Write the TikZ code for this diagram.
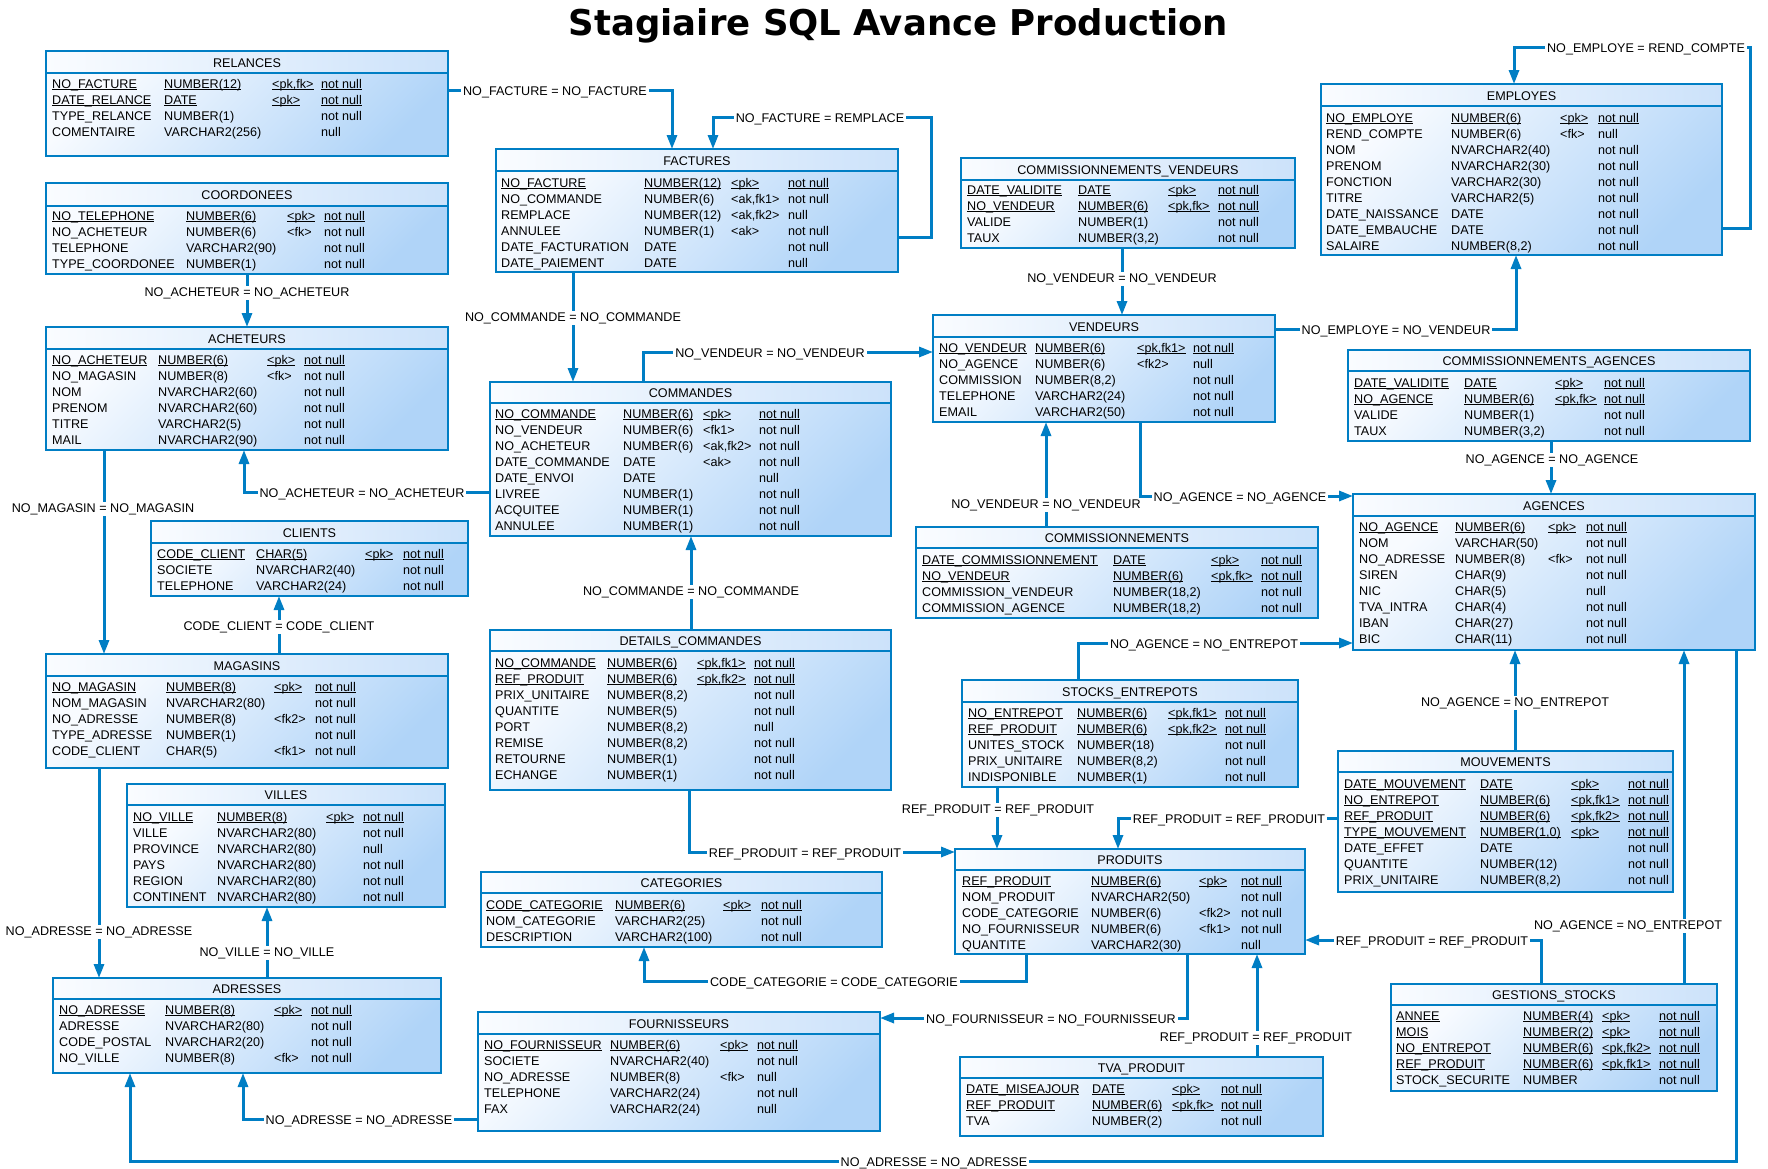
\documentclass[tikz,border=0pt]{standalone}
\usepackage{fontspec}
\setmainfont{Liberation Sans}
\newfontfamily\titlefont{DejaVu Sans}
\usepackage{graphicx}
\usetikzlibrary{fit,arrows.meta}
\definecolor{bc}{RGB}{0,126,196}
\definecolor{gtop}{RGB}{248,251,255}
\definecolor{gbot}{RGB}{176,212,248}
\definecolor{htop}{RGB}{250,252,255}
\definecolor{hbot}{RGB}{204,226,250}
\newcount\rowy
\newcount\nodeidx
\newsavebox\ulbox
\newcommand\pkul[1]{\sbox\ulbox{#1}\rlap{\rule[-1.8pt]{\wd\ulbox}{0.9pt}}\usebox\ulbox}
\newcommand\tablebox[7]{%
  \node[tbody, fit={(#2,#6) (#4,#5)}] (#1-body) {};
  \node[thead, fit={(#2,#3) (#4,#6)}] (#1-head) {};
  \node[ttl] (#1-title) at ({(#2+#4)/2},{(#3+#6)/2+5}) {#7};
  \draw[tsep] (#2,#6) -- (#4,#6);
  \node[tframe, fit={(#2,#3) (#4,#5)}] (#1) {};
}
\newcommand\tcols[5]{\def\tcA{#1}\def\tcB{#2}\def\tcC{#3}\def\tcD{#4}\global\rowy=#5\relax}
\newcommand\trow[4]{%
  \global\advance\nodeidx by 1
  \node[cell] (c\the\nodeidx a) at (\tcA,\the\rowy) {#1};
  \node[cell] (c\the\nodeidx b) at (\tcB,\the\rowy) {#2};
  \if\relax\detokenize{#3}\relax\else\node[cell] (c\the\nodeidx c) at (\tcC,\the\rowy) {#3};\fi
  \node[cell] (c\the\nodeidx d) at (\tcD,\the\rowy) {#4};
  \global\advance\rowy by 16
}
\newcommand\tpk[4]{\trow{\pkul{#1}}{\pkul{#2}}{\pkul{#3}}{\pkul{#4}}}
\begin{document}
\begin{tikzpicture}[x=1pt,y=-1pt,
  cell/.style={anchor=base west, inner sep=0pt, font=\fontsize{12.6}{15}\selectfont},
  ttl/.style={anchor=base, inner sep=0pt, font=\fontsize{12.6}{15}\selectfont},
  tbody/.style={inner sep=0pt, outer sep=0pt, top color=gtop, bottom color=gbot, shading angle=45},
  thead/.style={inner sep=0pt, outer sep=0pt, left color=htop, right color=hbot},
  tframe/.style={inner sep=0pt, outer sep=0pt, draw=bc, line width=2.2pt},
  tsep/.style={draw=bc, line width=2.2pt},
  conn/.style={draw=bc, line width=3pt, -{Triangle[length=14pt,width=10pt]}},
  lbl/.style={anchor=base, fill=white, inner xsep=2pt, inner ysep=1pt, text height=9pt, text depth=3pt, font=\fontsize{12.6}{15}\selectfont}
]
\useasboundingbox (0,0) rectangle (1768,1168);
\fill[white] (0,0) rectangle (1768,1168);

% ---------- tables ----------
\tablebox{relances}{46}{51}{448}{156}{73}{RELANCES}
\tcols{52}{164}{272}{321}{88}
\tpk{NO\_FACTURE}{NUMBER(12)}{<pk,fk>}{not null}
\tpk{DATE\_RELANCE}{DATE}{<pk>}{not null}
\trow{TYPE\_RELANCE}{NUMBER(1)}{}{not null}
\trow{COMENTAIRE}{VARCHAR2(256)}{}{null}

\tablebox{coord}{46}{183}{448}{274}{206}{COORDONEES}
\tcols{52}{186}{287}{324}{220}
\tpk{NO\_TELEPHONE}{NUMBER(6)}{<pk>}{not null}
\trow{NO\_ACHETEUR}{NUMBER(6)}{<fk>}{not null}
\trow{TELEPHONE}{VARCHAR2(90)}{}{not null}
\trow{TYPE\_COORDONEE}{NUMBER(1)}{}{not null}

\tablebox{acheteurs}{46}{327}{448}{450}{349}{ACHETEURS}
\tcols{52}{158}{267}{304}{364}
\tpk{NO\_ACHETEUR}{NUMBER(6)}{<pk>}{not null}
\trow{NO\_MAGASIN}{NUMBER(8)}{<fk>}{not null}
\trow{NOM}{NVARCHAR2(60)}{}{not null}
\trow{PRENOM}{NVARCHAR2(60)}{}{not null}
\trow{TITRE}{VARCHAR2(5)}{}{not null}
\trow{MAIL}{NVARCHAR2(90)}{}{not null}

\tablebox{clients}{151}{521}{468}{596}{543}{CLIENTS}
\tcols{157}{256}{365}{403}{558}
\tpk{CODE\_CLIENT}{CHAR(5)}{<pk>}{not null}
\trow{SOCIETE}{NVARCHAR2(40)}{}{not null}
\trow{TELEPHONE}{VARCHAR2(24)}{}{not null}

\tablebox{magasins}{46}{654}{448}{768}{676}{MAGASINS}
\tcols{52}{166}{274}{315}{691}
\tpk{NO\_MAGASIN}{NUMBER(8)}{<pk>}{not null}
\trow{NOM\_MAGASIN}{NVARCHAR2(80)}{}{not null}
\trow{NO\_ADRESSE}{NUMBER(8)}{<fk2>}{not null}
\trow{TYPE\_ADRESSE}{NUMBER(1)}{}{not null}
\trow{CODE\_CLIENT}{CHAR(5)}{<fk1>}{not null}

\tablebox{villes}{127}{784}{445}{907}{805}{VILLES}
\tcols{133}{217}{326}{363}{821}
\tpk{NO\_VILLE}{NUMBER(8)}{<pk>}{not null}
\trow{VILLE}{NVARCHAR2(80)}{}{not null}
\trow{PROVINCE}{NVARCHAR2(80)}{}{null}
\trow{PAYS}{NVARCHAR2(80)}{}{not null}
\trow{REGION}{NVARCHAR2(80)}{}{not null}
\trow{CONTINENT}{NVARCHAR2(80)}{}{not null}

\tablebox{adresses}{53}{978}{441}{1073}{999}{ADRESSES}
\tcols{59}{165}{274}{311}{1014}
\tpk{NO\_ADRESSE}{NUMBER(8)}{<pk>}{not null}
\trow{ADRESSE}{NVARCHAR2(80)}{}{not null}
\trow{CODE\_POSTAL}{NVARCHAR2(20)}{}{not null}
\trow{NO\_VILLE}{NUMBER(8)}{<fk>}{not null}

\tablebox{factures}{496}{149}{898}{272}{171}{FACTURES}
\tcols{501}{644}{731}{788}{187}
\tpk{NO\_FACTURE}{NUMBER(12)}{<pk>}{not null}
\trow{NO\_COMMANDE}{NUMBER(6)}{<ak,fk1>}{not null}
\trow{REMPLACE}{NUMBER(12)}{<ak,fk2>}{null}
\trow{ANNULEE}{NUMBER(1)}{<ak>}{not null}
\trow{DATE\_FACTURATION}{DATE}{}{not null}
\trow{DATE\_PAIEMENT}{DATE}{}{null}

\tablebox{commandes}{490}{382}{891}{536}{403}{COMMANDES}
\tcols{495}{623}{703}{759}{418}
\tpk{NO\_COMMANDE}{NUMBER(6)}{<pk>}{not null}
\trow{NO\_VENDEUR}{NUMBER(6)}{<fk1>}{not null}
\trow{NO\_ACHETEUR}{NUMBER(6)}{<ak,fk2>}{not null}
\trow{DATE\_COMMANDE}{DATE}{<ak>}{not null}
\trow{DATE\_ENVOI}{DATE}{}{null}
\trow{LIVREE}{NUMBER(1)}{}{not null}
\trow{ACQUITEE}{NUMBER(1)}{}{not null}
\trow{ANNULEE}{NUMBER(1)}{}{not null}

\tablebox{dc}{490}{630}{891}{790}{651}{DETAILS\_COMMANDES}
\tcols{495}{607}{697}{754}{667}
\tpk{NO\_COMMANDE}{NUMBER(6)}{<pk,fk1>}{not null}
\tpk{REF\_PRODUIT}{NUMBER(6)}{<pk,fk2>}{not null}
\trow{PRIX\_UNITAIRE}{NUMBER(8,2)}{}{not null}
\trow{QUANTITE}{NUMBER(5)}{}{not null}
\trow{PORT}{NUMBER(8,2)}{}{null}
\trow{REMISE}{NUMBER(8,2)}{}{not null}
\trow{RETOURNE}{NUMBER(1)}{}{not null}
\trow{ECHANGE}{NUMBER(1)}{}{not null}

\tablebox{categories}{481}{872}{882}{947}{893}{CATEGORIES}
\tcols{486}{615}{723}{761}{909}
\tpk{CODE\_CATEGORIE}{NUMBER(6)}{<pk>}{not null}
\trow{NOM\_CATEGORIE}{VARCHAR2(25)}{}{not null}
\trow{DESCRIPTION}{VARCHAR2(100)}{}{not null}

\tablebox{fourn}{478}{1012}{880}{1131}{1034}{FOURNISSEURS}
\tcols{484}{610}{720}{757}{1049}
\tpk{NO\_FOURNISSEUR}{NUMBER(6)}{<pk>}{not null}
\trow{SOCIETE}{NVARCHAR2(40)}{}{not null}
\trow{NO\_ADRESSE}{NUMBER(8)}{<fk>}{null}
\trow{TELEPHONE}{VARCHAR2(24)}{}{not null}
\trow{FAX}{VARCHAR2(24)}{}{null}

\tablebox{cv}{961}{158}{1295}{248}{180}{COMMISSIONNEMENTS\_VENDEURS}
\tcols{967}{1078}{1168}{1218}{194}
\tpk{DATE\_VALIDITE}{DATE}{<pk>}{not null}
\tpk{NO\_VENDEUR}{NUMBER(6)}{<pk,fk>}{not null}
\trow{VALIDE}{NUMBER(1)}{}{not null}
\trow{TAUX}{NUMBER(3,2)}{}{not null}

\tablebox{vendeurs}{933}{315}{1275}{422}{337}{VENDEURS}
\tcols{939}{1035}{1137}{1193}{352}
\tpk{NO\_VENDEUR}{NUMBER(6)}{<pk,fk1>}{not null}
\trow{NO\_AGENCE}{NUMBER(6)}{<fk2>}{null}
\trow{COMMISSION}{NUMBER(8,2)}{}{not null}
\trow{TELEPHONE}{VARCHAR2(24)}{}{not null}
\trow{EMAIL}{VARCHAR2(50)}{}{not null}

\tablebox{comm}{916}{527}{1318}{618}{548}{COMMISSIONNEMENTS}
\tcols{922}{1113}{1211}{1261}{564}
\tpk{DATE\_COMMISSIONNEMENT}{DATE}{<pk>}{not null}
\tpk{NO\_VENDEUR}{NUMBER(6)}{<pk,fk>}{not null}
\trow{COMMISSION\_VENDEUR}{NUMBER(18,2)}{}{not null}
\trow{COMMISSION\_AGENCE}{NUMBER(18,2)}{}{not null}

\tablebox{se}{962}{680}{1298}{787}{702}{STOCKS\_ENTREPOTS}
\tcols{968}{1077}{1168}{1225}{717}
\tpk{NO\_ENTREPOT}{NUMBER(6)}{<pk,fk1>}{not null}
\tpk{REF\_PRODUIT}{NUMBER(6)}{<pk,fk2>}{not null}
\trow{UNITES\_STOCK}{NUMBER(18)}{}{not null}
\trow{PRIX\_UNITAIRE}{NUMBER(8,2)}{}{not null}
\trow{INDISPONIBLE}{NUMBER(1)}{}{not null}

\tablebox{produits}{955}{849}{1305}{954}{870}{PRODUITS}
\tcols{962}{1091}{1199}{1241}{885}
\tpk{REF\_PRODUIT}{NUMBER(6)}{<pk>}{not null}
\trow{NOM\_PRODUIT}{NVARCHAR2(50)}{}{not null}
\trow{CODE\_CATEGORIE}{NUMBER(6)}{<fk2>}{not null}
\trow{NO\_FOURNISSEUR}{NUMBER(6)}{<fk1>}{not null}
\trow{QUANTITE}{VARCHAR2(30)}{}{null}

\tablebox{tva}{960}{1057}{1323}{1136}{1078}{TVA\_PRODUIT}
\tcols{966}{1092}{1172}{1221}{1093}
\tpk{DATE\_MISEAJOUR}{DATE}{<pk>}{not null}
\tpk{REF\_PRODUIT}{NUMBER(6)}{<pk,fk>}{not null}
\trow{TVA}{NUMBER(2)}{}{not null}

\tablebox{employes}{1321}{84}{1722}{255}{106}{EMPLOYES}
\tcols{1326}{1451}{1560}{1598}{122}
\tpk{NO\_EMPLOYE}{NUMBER(6)}{<pk>}{not null}
\trow{REND\_COMPTE}{NUMBER(6)}{<fk>}{null}
\trow{NOM}{NVARCHAR2(40)}{}{not null}
\trow{PRENOM}{NVARCHAR2(30)}{}{not null}
\trow{FONCTION}{VARCHAR2(30)}{}{not null}
\trow{TITRE}{VARCHAR2(5)}{}{not null}
\trow{DATE\_NAISSANCE}{DATE}{}{not null}
\trow{DATE\_EMBAUCHE}{DATE}{}{not null}
\trow{SALAIRE}{NUMBER(8,2)}{}{not null}

\tablebox{ca}{1348}{350}{1750}{441}{371}{COMMISSIONNEMENTS\_AGENCES}
\tcols{1354}{1464}{1555}{1604}{387}
\tpk{DATE\_VALIDITE}{DATE}{<pk>}{not null}
\tpk{NO\_AGENCE}{NUMBER(6)}{<pk,fk>}{not null}
\trow{VALIDE}{NUMBER(1)}{}{not null}
\trow{TAUX}{NUMBER(3,2)}{}{not null}

\tablebox{agences}{1353}{494}{1755}{650}{516}{AGENCES}
\tcols{1359}{1455}{1548}{1586}{531}
\tpk{NO\_AGENCE}{NUMBER(6)}{<pk>}{not null}
\trow{NOM}{VARCHAR(50)}{}{not null}
\trow{NO\_ADRESSE}{NUMBER(8)}{<fk>}{not null}
\trow{SIREN}{CHAR(9)}{}{not null}
\trow{NIC}{CHAR(5)}{}{null}
\trow{TVA\_INTRA}{CHAR(4)}{}{not null}
\trow{IBAN}{CHAR(27)}{}{not null}
\trow{BIC}{CHAR(11)}{}{not null}

\tablebox{mouv}{1338}{751}{1673}{892}{772}{MOUVEMENTS}
\tcols{1344}{1480}{1571}{1628}{788}
\tpk{DATE\_MOUVEMENT}{DATE}{<pk>}{not null}
\tpk{NO\_ENTREPOT}{NUMBER(6)}{<pk,fk1>}{not null}
\tpk{REF\_PRODUIT}{NUMBER(6)}{<pk,fk2>}{not null}
\tpk{TYPE\_MOUVEMENT}{NUMBER(1,0)}{<pk>}{not null}
\trow{DATE\_EFFET}{DATE}{}{not null}
\trow{QUANTITE}{NUMBER(12)}{}{not null}
\trow{PRIX\_UNITAIRE}{NUMBER(8,2)}{}{not null}

\tablebox{gs}{1391}{984}{1717}{1091}{1005}{GESTIONS\_STOCKS}
\tcols{1396}{1523}{1602}{1659}{1020}
\tpk{ANNEE}{NUMBER(4)}{<pk>}{not null}
\tpk{MOIS}{NUMBER(2)}{<pk>}{not null}
\tpk{NO\_ENTREPOT}{NUMBER(6)}{<pk,fk2>}{not null}
\tpk{REF\_PRODUIT}{NUMBER(6)}{<pk,fk1>}{not null}
\trow{STOCK\_SECURITE}{NUMBER}{}{not null}

% ---------- connectors ----------
\draw[conn] (relances.east |- 0,90) -- (672,90) -- (672,0 |- factures.north);
\draw[conn] (factures.east |- 0,237) -- (931,237) -- (931,117) -- (713,117) -- (713,0 |- factures.north);
\draw[conn] (573,0 |- factures.south) -- (573,0 |- commandes.north);
\draw[conn] (643,0 |- commandes.north) -- (643,352) -- (vendeurs.west |- 0,352);
\draw[conn] (1122,0 |- cv.south) -- (1122,0 |- vendeurs.north);
\draw[conn] (vendeurs.east |- 0,329) -- (1516,329) -- (1516,0 |- employes.south);
\draw[conn] (employes.east |- 0,228) -- (1750,228) -- (1750,47) -- (1514,47) -- (1514,0 |- employes.north);
\draw[conn] (1551,0 |- ca.south) -- (1551,0 |- agences.north);
\draw[conn] (1140,0 |- vendeurs.south) -- (1140,496) -- (agences.west |- 0,496);
\draw[conn] (1046,0 |- comm.north) -- (1046,0 |- vendeurs.south);
\draw[conn] (1078,0 |- se.north) -- (1078,643) -- (agences.west |- 0,643);
\draw[conn] (1515,0 |- mouv.north) -- (1515,0 |- agences.south);
\draw[conn] (1684,0 |- gs.north) -- (1684,0 |- agences.south);
\draw[conn] (1736,0 |- agences.south) -- (1736,1161) -- (130,1161) -- (130,0 |- adresses.south);
\draw[conn] (mouv.west |- 0,818) -- (1118,818) -- (1118,0 |- produits.north);
\draw[conn] (997,0 |- se.south) -- (997,0 |- produits.north);
\draw[conn] (689,0 |- dc.south) -- (689,852) -- (produits.west |- 0,852);
\draw[conn] (1541,0 |- gs.north) -- (1541,940) -- (produits.east |- 0,940);
\draw[conn] (1257,0 |- tva.north) -- (1257,0 |- produits.south);
\draw[conn] (1026,0 |- produits.south) -- (1026,981) -- (644,981) -- (644,0 |- categories.south);
\draw[conn] (1187,0 |- produits.south) -- (1187,1018) -- (fourn.east |- 0,1018);
\draw[conn] (fourn.west |- 0,1119) -- (243,1119) -- (243,0 |- adresses.south);
\draw[conn] (267,0 |- adresses.north) -- (267,0 |- villes.south);
\draw[conn] (99,0 |- magasins.south) -- (99,0 |- adresses.north);
\draw[conn] (104,0 |- acheteurs.south) -- (104,0 |- magasins.north);
\draw[conn] (279,0 |- magasins.north) -- (279,0 |- clients.south);
\draw[conn] (commandes.west |- 0,492) -- (244,492) -- (244,0 |- acheteurs.south);
\draw[conn] (691,0 |- dc.north) -- (691,0 |- commandes.south);
\draw[conn] (247,0 |- coord.south) -- (247,0 |- acheteurs.north);

% ---------- labels ----------
\node[lbl] (l1) at (555,95) {NO\_FACTURE = NO\_FACTURE};
\node[lbl] (l2) at (820,122) {NO\_FACTURE = REMPLACE};
\node[lbl] (l3) at (573,321) {NO\_COMMANDE = NO\_COMMANDE};
\node[lbl] (l4) at (770,357) {NO\_VENDEUR = NO\_VENDEUR};
\node[lbl] (l5) at (1122,282) {NO\_VENDEUR = NO\_VENDEUR};
\node[lbl] (l6) at (1396,334) {NO\_EMPLOYE = NO\_VENDEUR};
\node[lbl] (l7) at (1646,52) {NO\_EMPLOYE = REND\_COMPTE};
\node[lbl] (l8) at (1552,463) {NO\_AGENCE = NO\_AGENCE};
\node[lbl] (l9) at (1240,501) {NO\_AGENCE = NO\_AGENCE};
\node[lbl] (l10) at (1046,508) {NO\_VENDEUR = NO\_VENDEUR};
\node[lbl] (l11) at (1204,648) {NO\_AGENCE = NO\_ENTREPOT};
\node[lbl] (l12) at (1515,706) {NO\_AGENCE = NO\_ENTREPOT};
\node[lbl] (l13) at (1628,929) {NO\_AGENCE = NO\_ENTREPOT};
\node[lbl] (l14) at (934,1166) {NO\_ADRESSE = NO\_ADRESSE};
\node[lbl] (l15) at (1229,823) {REF\_PRODUIT = REF\_PRODUIT};
\node[lbl] (l16) at (998,813) {REF\_PRODUIT = REF\_PRODUIT};
\node[lbl] (l17) at (805,857) {REF\_PRODUIT = REF\_PRODUIT};
\node[lbl] (l18) at (1432,945) {REF\_PRODUIT = REF\_PRODUIT};
\node[lbl] (l19) at (1256,1041) {REF\_PRODUIT = REF\_PRODUIT};
\node[lbl] (l20) at (834,986) {CODE\_CATEGORIE = CODE\_CATEGORIE};
\node[lbl] (l21) at (1051,1023) {NO\_FOURNISSEUR = NO\_FOURNISSEUR};
\node[lbl] (l22) at (359,1124) {NO\_ADRESSE = NO\_ADRESSE};
\node[lbl] (l23) at (267,956) {NO\_VILLE = NO\_VILLE};
\node[lbl] (l24) at (99,935) {NO\_ADRESSE = NO\_ADRESSE};
\node[lbl] (l25) at (103,512) {NO\_MAGASIN = NO\_MAGASIN};
\node[lbl] (l26) at (279,630) {CODE\_CLIENT = CODE\_CLIENT};
\node[lbl] (l27) at (362,497) {NO\_ACHETEUR = NO\_ACHETEUR};
\node[lbl] (l28) at (691,595) {NO\_COMMANDE = NO\_COMMANDE};
\node[lbl] (l29) at (247,296) {NO\_ACHETEUR = NO\_ACHETEUR};

% ---------- title ----------
\node[anchor=base, inner sep=0pt] (title) at (898.5,35) {\resizebox{659pt}{!}{\titlefont\bfseries Stagiaire SQL Avance Production}};
\end{tikzpicture}
\end{document}
